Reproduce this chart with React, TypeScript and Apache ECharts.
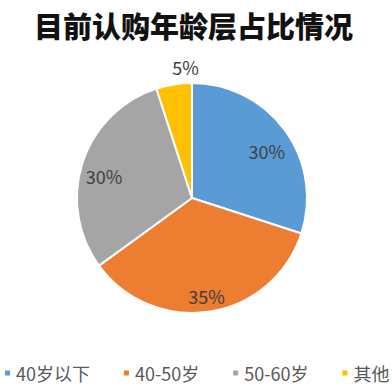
import React, { useEffect, useRef } from "react";
import * as echarts from "echarts";

const categories = ["40岁以下", "40-50岁", "50-60岁", "其他"];
const shares = [30, 35, 30, 5];
const colors = ["#5B9BD5", "#ED7D31", "#A5A5A5", "#FFC000"];

const FONT = "'Noto Sans CJK SC', 'Noto Sans', sans-serif";

export default function App() {
  const ref = useRef<HTMLDivElement>(null);

  useEffect(() => {
    if (!ref.current) return;
    const chart = echarts.init(ref.current, undefined, { renderer: "svg" });
    const data = categories.map((name, i) => ({ name, value: shares[i] }));

    chart.setOption({
      animation: false,
      backgroundColor: "#ffffff",
      color: colors,
      title: {
        text: "目前认购年龄层占比情况",
        left: 29,
        top: 5,
        textStyle: {
          fontFamily: FONT,
          fontSize: 29,
          fontWeight: 900,
          color: "#111111",
        },
      },
      legend: {
        data: categories,
        bottom: 8,
        left: 3,
        padding: 0,
        icon: "rect",
        itemWidth: 7,
        itemHeight: 7,
        itemGap: 32,
        textStyle: { fontFamily: FONT, fontSize: 18, color: "#595959" },
      },
      series: [
        {
          type: "pie",
          center: [192, 198],
          radius: [0, 115],
          startAngle: 90,
          clockwise: true,
          silent: true,
          label: { show: false },
          labelLine: { show: false },
          itemStyle: { borderColor: "#ffffff", borderWidth: 2 },
          data,
        },
        {
          // transparent ring that carries the percentage labels
          type: "pie",
          center: [192, 198],
          radius: [64, 115],
          startAngle: 90,
          clockwise: true,
          silent: true,
          itemStyle: { color: "transparent", borderWidth: 0 },
          emphasis: { disabled: true },
          labelLine: { show: false },
          label: {
            show: true,
            position: "inside",
            formatter: "{c}%",
            fontFamily: FONT,
            fontSize: 18,
            color: "#404040",
          },
          labelLayout: (p: any) =>
            p.dataIndex === 3 ? { dx: 8, dy: -40 } : { dy: 7 },
          data,
        },
      ],
    });

    return () => chart.dispose();
  }, []);

  return (
    <div
      ref={ref}
      style={{ position: "fixed", left: 0, top: 0, width: 392, height: 390 }}
    />
  );
}
